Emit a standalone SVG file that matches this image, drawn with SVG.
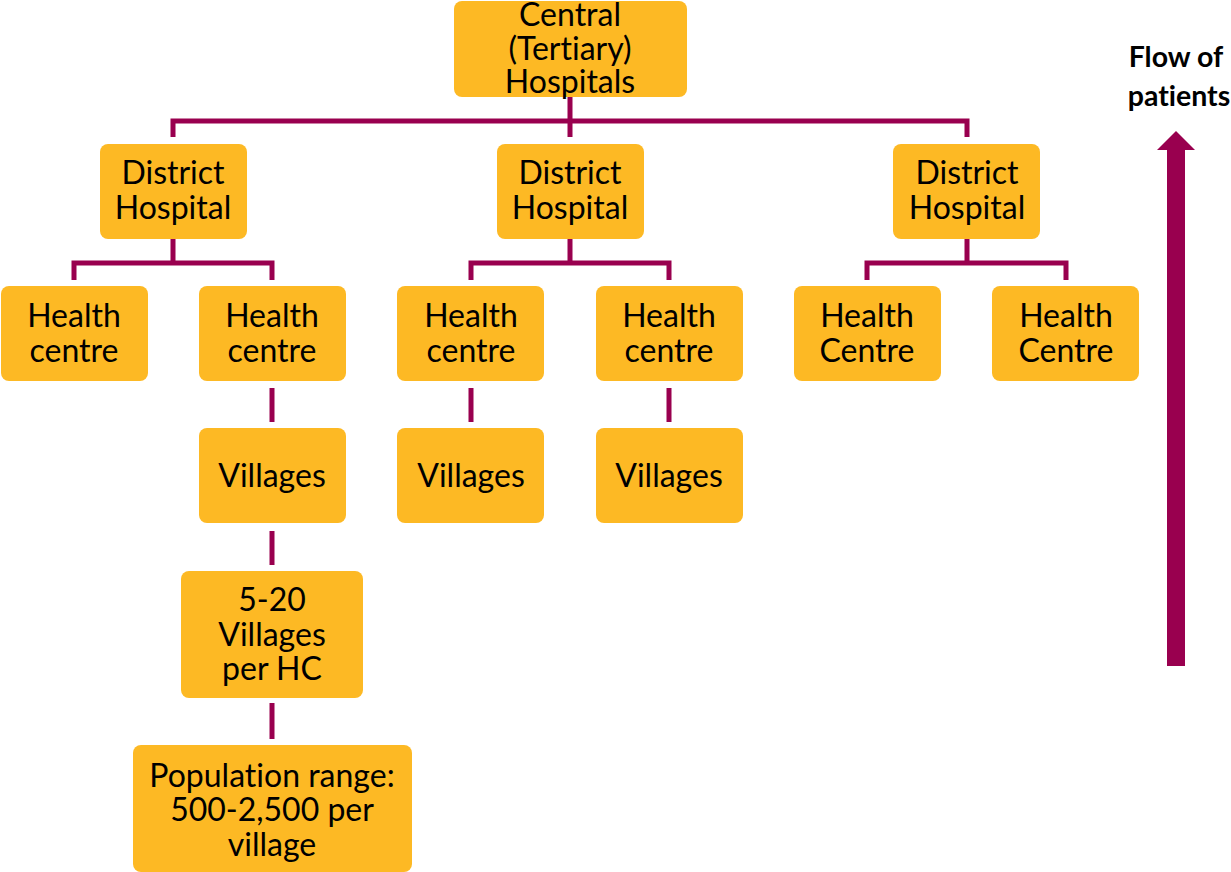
<svg xmlns="http://www.w3.org/2000/svg" width="1231" height="872" viewBox="0 0 1231 872">
<style>
.box{fill:#FDB924}
.t{font-family:Lato,"Liberation Sans",sans-serif;font-size:32px;fill:#000;text-anchor:middle;font-variant-ligatures:none}
.c{fill:none;stroke:#99004F;stroke-width:5}
.b{font-family:Lato,"Liberation Sans",sans-serif;font-size:28.5px;font-weight:bold;fill:#000;text-anchor:middle;font-variant-ligatures:none}
</style>
<rect width="1231" height="872" fill="#fff"/>
<g id="connectors" class="c">
<path d="M570 97V121M173 137V121H967V137M570 121V137"/>
<path d="M173 239V263M74 280V263H272V280"/>
<path d="M570 239V263M471 280V263H669V280"/>
<path d="M967 239V263M867 280V263H1066V280"/>
<path d="M272 388V422M272 531V565M272 703V739M471 388V422M669 388V422"/>
</g>
<g id="central"><rect class="box" x="454" y="1" width="233" height="96" rx="8"/><text class="t" x="570" y="26">Central</text><text class="t" x="570" y="60">(Tertiary)</text><text class="t" x="570" y="93">Hospitals</text></g>
<g id="dh1"><rect class="box" x="100" y="144" width="147" height="95" rx="8"/><text class="t" x="173" y="184">District</text><text class="t" x="173" y="219">Hospital</text></g>
<g id="dh2"><rect class="box" x="497" y="144" width="147" height="95" rx="8"/><text class="t" x="570" y="184">District</text><text class="t" x="570" y="219">Hospital</text></g>
<g id="dh3"><rect class="box" x="893" y="144" width="147" height="95" rx="8"/><text class="t" x="967" y="184">District</text><text class="t" x="967" y="219">Hospital</text></g>
<g id="hc1"><rect class="box" x="1" y="286" width="147" height="95" rx="8"/><text class="t" x="74" y="327">Health</text><text class="t" x="74" y="362">centre</text></g>
<g id="hc2"><rect class="box" x="199" y="286" width="147" height="95" rx="8"/><text class="t" x="272" y="327">Health</text><text class="t" x="272" y="362">centre</text></g>
<g id="hc3"><rect class="box" x="397" y="286" width="147" height="95" rx="8"/><text class="t" x="471" y="327">Health</text><text class="t" x="471" y="362">centre</text></g>
<g id="hc4"><rect class="box" x="596" y="286" width="147" height="95" rx="8"/><text class="t" x="669" y="327">Health</text><text class="t" x="669" y="362">centre</text></g>
<g id="hc5"><rect class="box" x="794" y="286" width="147" height="95" rx="8"/><text class="t" x="867" y="327">Health</text><text class="t" x="867" y="362">Centre</text></g>
<g id="hc6"><rect class="box" x="992" y="286" width="147" height="95" rx="8"/><text class="t" x="1066" y="327">Health</text><text class="t" x="1066" y="362">Centre</text></g>
<g id="v1"><rect class="box" x="199" y="428" width="147" height="95" rx="8"/><text class="t" x="272" y="487">Villages</text></g>
<g id="v2"><rect class="box" x="397" y="428" width="147" height="95" rx="8"/><text class="t" x="471" y="487">Villages</text></g>
<g id="v3"><rect class="box" x="596" y="428" width="147" height="95" rx="8"/><text class="t" x="669" y="487">Villages</text></g>
<g id="vphc"><rect class="box" x="181" y="571" width="182" height="127" rx="8"/><text class="t" x="272" y="611">5-20</text><text class="t" x="272" y="646">Villages</text><text class="t" x="272" y="680">per HC</text></g>
<g id="pop"><rect class="box" x="133" y="745" width="279" height="127" rx="8"/><text class="t" x="272" y="787">Population range:</text><text class="t" x="272" y="821">500-2,500 per</text><text class="t" x="272" y="856">village</text></g>
<g id="flow"><text class="b" x="1176" y="67">Flow of</text><text class="b" x="1179" y="106">patients</text><path d="M1167 666V150H1157L1176 131L1195 150H1185V666Z" fill="#99004F"/></g>
</svg>
